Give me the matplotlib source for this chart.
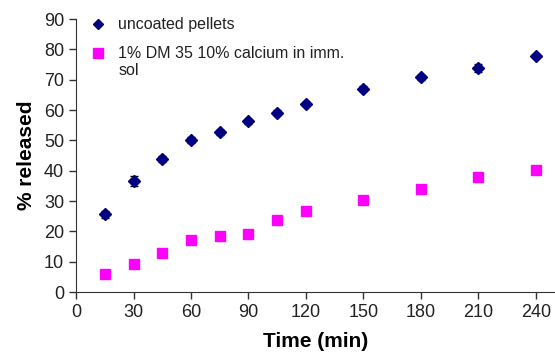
import matplotlib.pyplot as plt
from matplotlib.lines import Line2D

plt.rcParams['font.family'] = ['Liberation Sans', 'DejaVu Sans']

# release data
time_min = [15, 30, 45, 60, 75, 90, 105, 120, 150, 180, 210, 240]
uncoated = [25.6, 36.6, 43.8, 50.0, 52.7, 56.3, 59.2, 62.0, 67.1, 70.8, 73.9, 77.8]
uncoated_err = [1.2, 1.6, 0.9, 1.0, 0.8, 0.8, 0.9, 0.8, 0.8, 0.9, 1.2, 0.7]
coated = [6.0, 9.1, 13.0, 17.0, 18.6, 19.1, 23.8, 26.8, 30.4, 34.0, 37.9, 40.4]
coated_err = [0.8, 1.0, 0.9, 0.8, 0.9, 0.8, 0.4, 0.8, 0.7, 0.8, 0.9, 0.6]

labels = ['uncoated pellets', '1% DM 35 10% calcium in imm.']
label_wrap = 'sol'   # second line of the coated label
x_ticks = [0, 30, 60, 90, 120, 150, 180, 210, 240]
y_ticks = [0, 10, 20, 30, 40, 50, 60, 70, 80, 90]

fig = plt.figure(figsize=(5.55, 3.54), dpi=100)
ax = fig.add_axes([0.137, 0.175, 0.863, 0.771])

ax.errorbar(time_min, uncoated, yerr=uncoated_err, fmt='D', color='#000080',
            ms=6.5, ecolor='black', elinewidth=1, capsize=3)
ax.errorbar(time_min, coated, yerr=coated_err, fmt='s', color='#FF00FF',
            ms=7, ecolor='black', elinewidth=1, capsize=3)

ax.set_xlim(0, 250)
ax.set_ylim(0, 90)
ax.set_xticks(x_ticks)
ax.set_yticks(y_ticks)
ax.tick_params(labelsize=13, length=5, width=1, colors='#333333', labelcolor='#222222')
for side in ['top', 'right']:
    ax.spines[side].set_visible(False)
for side in ['left', 'bottom']:
    ax.spines[side].set_color('#333333')

ax.set_xlabel('Time (min)', fontsize=15, fontweight='bold', labelpad=8)
ax.set_ylabel('% released', fontsize=15, fontweight='bold', labelpad=6)

handles = [Line2D([], [], marker='D', ls='none', color='#000080', ms=5.5),
           Line2D([], [], marker='s', ls='none', color='#FF00FF', ms=6.5)]
leg = ax.legend(handles, labels, loc='upper left', bbox_to_anchor=(0.0, 1.06),
                frameon=False, fontsize=11.5, handletextpad=0.75,
                handlelength=1.0, labelspacing=0.9)
for t in leg.get_texts():
    t.set_color('#222222')
ax.text(0.0898, 0.81, label_wrap, transform=ax.transAxes, fontsize=11.5,
        color='#222222', va='center', ha='left')

plt.savefig('out.png', dpi=100)
